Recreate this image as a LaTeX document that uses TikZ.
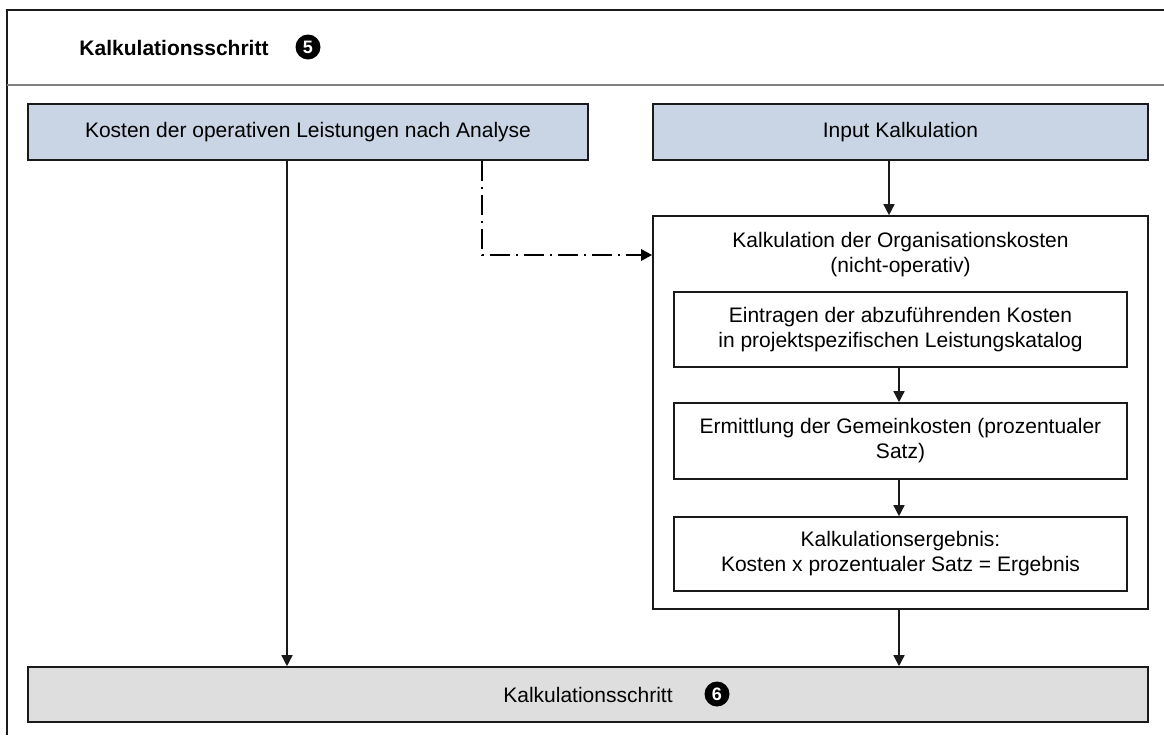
\documentclass[tikz,border=0pt]{standalone}
\usepackage{fontspec}
\setmainfont{Liberation Sans}
\usetikzlibrary{arrows.meta}
\definecolor{boxblue}{HTML}{C9D5E4}
\definecolor{boxgray}{HTML}{DEDEDE}
\definecolor{edge}{HTML}{1A1A1A}
\begin{document}
\begin{tikzpicture}[x=0.5pt,y=-0.5pt,
  every node/.style={font=\fontsize{10.5}{12.5}\selectfont},
  box/.style={draw=edge, line width=0.8pt, rectangle, align=center, inner sep=0pt},
  bluebox/.style={box, fill=boxblue},
  graybox/.style={box, fill=boxgray},
  badge/.style={circle, fill=black, inner sep=0pt, minimum size=12.5pt,
    text=white, font=\fontsize{9}{10}\selectfont\bfseries},
  arr/.style={draw=edge, line width=0.7pt, -{Triangle[length=5.5pt,width=5.5pt]}},
  dashdotarr/.style={draw=black, line width=1.4pt,
    dash pattern=on 10pt off 3pt on 1pt off 3pt,
    -{Triangle[length=5.5pt,width=5.5pt]}}
]
% canvas
\useasboundingbox (0,0) rectangle (1164,735);

% outer frame and header separator
\draw[edge, line width=1pt] (1164,10) -- (7,10) -- (7,735);
\draw[gray, line width=0.8pt] (7,85) -- (1164,85);

% header
\node[font=\fontsize{10.5}{12.5}\selectfont\bfseries] (title) at (174,48) {Kalkulationsschritt};
\node[badge] (b5) at (308,47) {5};

% top row
\node[bluebox, minimum width=280pt, minimum height=28pt] (ops) at (308,132)
  {Kosten der operativen Leistungen nach Analyse};
\node[bluebox, minimum width=247.5pt, minimum height=28pt] (input) at (900.5,132)
  {Input Kalkulation};

% organisation cost block with its three steps
\node[box, minimum width=247.5pt, minimum height=196.5pt] (org) at (900.5,412.5) {};
\node[align=center] (orgtitle) at (900.5,254.5)
  {Kalkulation der Organisationskosten\\(nicht-operativ)};
\node[box, minimum width=226.5pt, minimum height=37.5pt] (s1) at (900.5,329.5)
  {Eintragen der abzuführenden Kosten\\in projektspezifischen Leistungskatalog};
\node[box, minimum width=226.5pt, minimum height=38pt] (s2) at (900.5,441)
  {Ermittlung der Gemeinkosten (prozentualer\\Satz)};
\node[box, minimum width=226.5pt, minimum height=37pt] (s3) at (900.5,554)
  {Kalkulationsergebnis:\\Kosten x prozentualer Satz = Ergebnis};

% next step bar
\node[graybox, minimum width=560pt, minimum height=27.5pt] (next) at (588,694.5) {};
\node (nexttext) at (588,694.5) {Kalkulationsschritt};
\node[badge] (b6) at (717,694) {6};

% connectors
\draw[arr] (287,0 |- ops.south) -- (287,0 |- next.north);
\draw[dashdotarr] (482,0 |- ops.south) |- (org.west |- 0,255);
\draw[arr] (889,0 |- input.south) -- (889,0 |- org.north);
\draw[arr] (899,0 |- s1.south) -- (899,0 |- s2.north);
\draw[arr] (899,0 |- s2.south) -- (899,0 |- s3.north);
\draw[arr] (899,0 |- org.south) -- (899,0 |- next.north);
\end{tikzpicture}
\end{document}
